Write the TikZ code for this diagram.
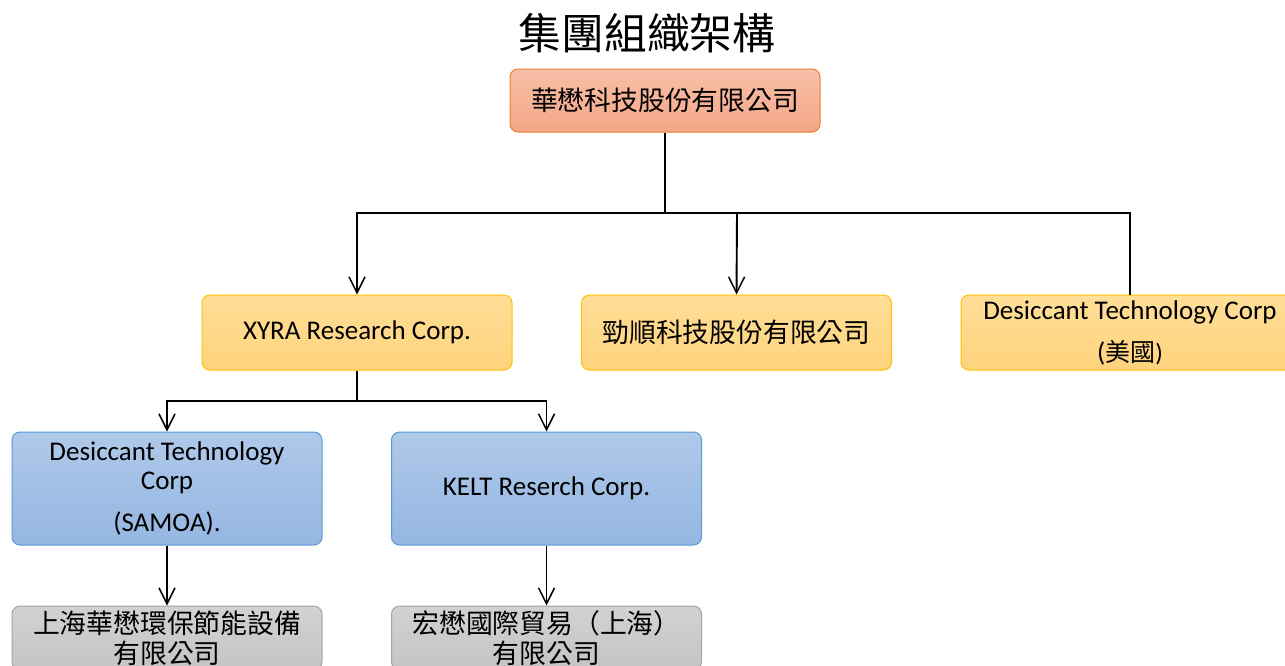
\documentclass[tikz,border=0pt]{standalone}
\usepackage{fontspec}
\setmainfont{Carlito}
\newfontfamily\cjk{Noto Sans CJK TC}
\usetikzlibrary{arrows.meta}
\definecolor{orTop}{RGB}{248,192,168}
\definecolor{orBot}{RGB}{244,166,134}
\definecolor{orLine}{RGB}{237,125,49}
\definecolor{yeTop}{RGB}{255,222,152}
\definecolor{yeBot}{RGB}{255,211,124}
\definecolor{yeLine}{RGB}{255,192,0}
\definecolor{blTop}{RGB}{175,201,233}
\definecolor{blBot}{RGB}{148,182,226}
\definecolor{blLine}{RGB}{91,155,213}
\definecolor{grTop}{RGB}{210,210,210}
\definecolor{grBot}{RGB}{196,196,196}
\definecolor{grLine}{RGB}{165,165,165}
\tikzset{
  box/.style={rectangle, rounded corners=8pt, line width=1pt, inner sep=0pt,
    minimum width=310pt, align=center, font=\fontsize{27}{28.5}\selectfont},
  orbox/.style={box, draw=orLine, top color=orTop, bottom color=orBot, minimum height=63pt},
  yebox/.style={box, draw=yeLine, top color=yeTop, bottom color=yeBot, minimum height=75pt},
  blbox/.style={box, draw=blLine, top color=blTop, bottom color=blBot, minimum height=113pt},
  grbox/.style={box, draw=grLine, top color=grTop, bottom color=grBot, minimum height=64pt},
  cjktext/.style={font=\cjk\fontsize{26.8}{30}\selectfont},
  conn/.style={draw=black, line width=1.9pt},
  connthick/.style={draw=black, line width=2.8pt},
  arr/.style={conn, -{Straight Barb[length=16pt,width=16pt,line width=1.5pt]}}
}
\begin{document}
\begin{tikzpicture}[x=1pt,y=-1pt]
\useasboundingbox (0,0) rectangle (1285,665);
\clip (0,0) rectangle (1285,665);
\fill[white] (0,0) rectangle (1285,665);

\node[font=\cjk\fontsize{42.8}{46}\selectfont, inner sep=0pt] (title) at (647,33) {集團組織架構};

\node[orbox, cjktext] (top) at (665,100.5) {華懋科技股份有限公司};

\node[yebox] (xyra) at (357,332.5) {XYRA Research Corp.};
\node[yebox, cjktext] (jin) at (736.5,332.5) {勁順科技股份有限公司};
\node[yebox, minimum width=338pt] (dus) at (1130,332.5) {Desiccant Technology Corp\\[13.5pt](\cjk\fontsize{25}{28.5}\selectfont 美國\rmfamily)};

\node[blbox] (samoa) at (167,488.5) {Desiccant Technology\\Corp\\[13.5pt](SAMOA).};
\node[blbox] (kelt) at (546.5,488.5) {KELT Reserch Corp.};

\node[grbox, cjktext] (sh) at (167,638) {上海華懋環保節能設備\\有限公司};
\node[grbox, cjktext] (hm) at (546.5,638) {宏懋國際貿易（上海）\\有限公司};

\coordinate (j1) at (665,213);
\coordinate (j2) at (737,213);
\coordinate (j3) at (357,401);

\draw[connthick] (top.south) -- (j1) -| (dus.north);
\draw[arr] (j1) -| (xyra.north);
\draw[arr] (j2) -- (jin.north);

\draw[conn] (xyra.south) -- (j3);
\draw[arr] (j3) -| (samoa.north);
\draw[arr] (j3) -| (kelt.north);

\draw[arr] (samoa.south) -- (sh.north);
\draw[arr] (kelt.south) -- (hm.north);
\end{tikzpicture}
\end{document}
